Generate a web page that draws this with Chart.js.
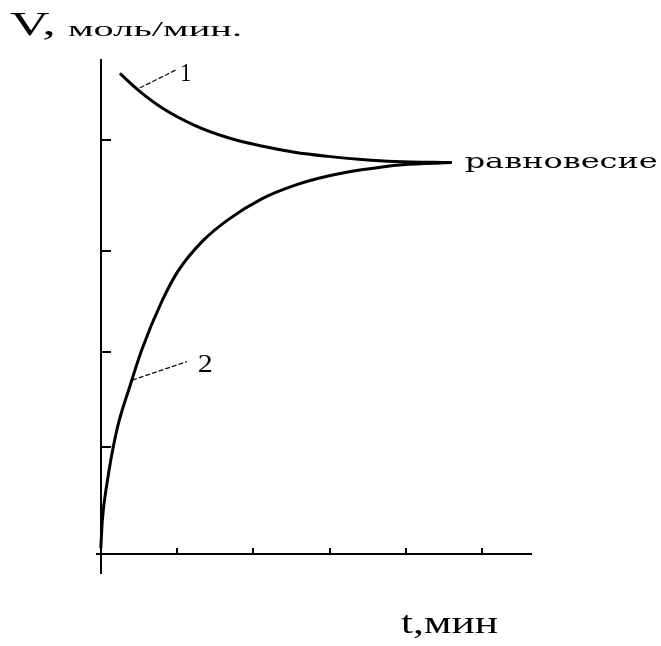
<!DOCTYPE html>
<html>
<head>
<meta charset="utf-8">
<script src="https://cdn.jsdelivr.net/npm/chart.js@4.4.1/dist/chart.umd.min.js"></script>
<style>
  body { margin: 0; background: #fff; }
  canvas { display: block; }
</style>
</head>
<body>
<canvas id="chart" width="661" height="646"></canvas>
<script>
// кривая 1 - скорость прямой реакции, кривая 2 - обратной
const t1 = [0.25, 0.49, 0.80, 1.23, 1.67, 2.11, 2.54, 2.98, 3.42, 3.86, 4.60];
const v1 = [4.64, 4.48, 4.31, 4.14, 4.02, 3.94, 3.88, 3.84, 3.81, 3.79, 3.78];
const t2 = [0.00, 0.02, 0.08, 0.21, 0.38, 0.54, 0.80, 1.01, 1.33, 1.67, 2.11, 2.54, 2.98, 3.42, 3.95, 4.60];
const v2 = [0.06, 0.33, 0.68, 1.20, 1.62, 1.98, 2.44, 2.73, 3.02, 3.23, 3.43, 3.56, 3.65, 3.71, 3.76, 3.78];

// засечки на осях
const xTicks = [1, 2, 3, 4, 5];
const yTicks = [1.04, 1.95, 2.93, 4.00];

// выноски к кривым: [t, V] начало и конец
const lead1 = [[0.51, 4.50], [1.00, 4.68]];
const lead2 = [[0.41, 1.68], [1.13, 1.86]];

const toPts = (xs, ys) => xs.map((x, i) => ({ x: x, y: ys[i] }));

// текст, растянутый по ширине (как в исходной картинке)
function stretchText(ctx, text, font, x, y, width) {
  ctx.save();
  ctx.font = font;
  const w = ctx.measureText(text).width;
  ctx.translate(x, y);
  ctx.scale(width / w, 1);
  ctx.fillText(text, 0, 0);
  ctx.restore();
}

const labelsPlugin = {
  id: 'labels',
  afterDraw(chart) {
    const ctx = chart.ctx;
    const xs = chart.scales.x, ys = chart.scales.y;
    ctx.save();
    ctx.fillStyle = '#000';
    ctx.textBaseline = 'alphabetic';
    ctx.textAlign = 'left';

    stretchText(ctx, 'V,', '33px "Liberation Serif"', 10, 35, 46);
    stretchText(ctx, 'моль/мин.', '22px "Liberation Serif"', 68, 36, 174);
    stretchText(ctx, 't,мин', '31px "Liberation Serif"', 401, 633, 97);

    // подписи у кривых
    stretchText(ctx, '1', '26px "Liberation Serif"', xs.getPixelForValue(1.04), ys.getPixelForValue(4.57), 11);
    stretchText(ctx, '2', '26px "Liberation Serif"', xs.getPixelForValue(1.27), ys.getPixelForValue(1.76), 15);
    stretchText(ctx, 'равновесие', '20px "DejaVu Serif"', xs.getPixelForValue(4.77), ys.getPixelForValue(3.73), 193);
    ctx.restore();
  }
};

new Chart(document.getElementById('chart'), {
  type: 'scatter',
  data: {
    datasets: [
      {
        label: '1',
        data: toPts(t1, v1),
        showLine: true,
        borderColor: '#000',
        borderWidth: 3,
        pointRadius: 0,
        cubicInterpolationMode: 'monotone'
      },
      {
        label: '2',
        data: toPts(t2, v2),
        showLine: true,
        borderColor: '#000',
        borderWidth: 3,
        pointRadius: 0,
        cubicInterpolationMode: 'monotone'
      },
      {
        label: 'выноска 1',
        data: lead1.map(p => ({ x: p[0], y: p[1] })),
        showLine: true,
        borderColor: '#111',
        borderWidth: 1.3,
        borderDash: [5, 2],
        pointRadius: 0
      },
      {
        label: 'выноска 2',
        data: lead2.map(p => ({ x: p[0], y: p[1] })),
        showLine: true,
        borderColor: '#111',
        borderWidth: 1.3,
        borderDash: [5, 2],
        pointRadius: 0
      }
    ]
  },
  options: {
    responsive: false,
    devicePixelRatio: 1,
    animation: false,
    layout: { padding: { left: 97, right: 130, top: 60, bottom: 73 } },
    plugins: { legend: { display: false }, tooltip: { enabled: false } },
    scales: {
      x: {
        type: 'linear',
        min: -0.05,
        max: 5.64,
        position: { y: 0 },
        afterBuildTicks: s => { s.ticks = xTicks.map(v => ({ value: v })); },
        ticks: { display: false },
        grid: { display: true, drawOnChartArea: false, drawTicks: true, tickLength: -7, color: '#000', lineWidth: 2 },
        border: { display: true, color: '#000', width: 2 }
      },
      y: {
        type: 'linear',
        min: -0.18,
        max: 4.77,
        position: { x: 0 },
        afterBuildTicks: s => { s.ticks = yTicks.map(v => ({ value: v })); },
        ticks: { display: false },
        grid: { display: true, drawOnChartArea: false, drawTicks: true, tickLength: -11, color: '#000', lineWidth: 2 },
        border: { display: true, color: '#000', width: 2 }
      }
    }
  },
  plugins: [labelsPlugin]
});
</script>
</body>
</html>
